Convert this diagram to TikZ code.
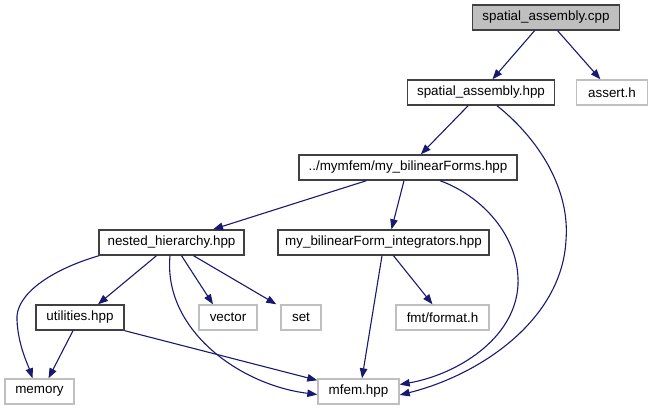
\documentclass[tikz,border=0pt]{standalone}
\usepackage{fontspec}
\setmainfont{Liberation Sans}
\usetikzlibrary{arrows.meta}
\definecolor{edgec}{HTML}{191970}
\definecolor{grayb}{HTML}{BFBFBF}
\definecolor{darkb}{HTML}{404040}
\begin{document}
\begin{tikzpicture}[x=1pt,y=-1pt,
  box/.style={draw=darkb,line width=1.4pt,inner sep=0pt,minimum height=25pt,font=\fontsize{13.4}{15}\selectfont,fill=white},
  ext/.style={box,draw=grayb},
  dep/.style={draw=edgec,line width=1.1pt,-{Triangle[length=10pt,width=7.5pt]}}]
\useasboundingbox (0,0) rectangle (653,411);
\node[box,fill=grayb,minimum width=147pt] (cpp) at (546,17.5) {spatial\_assembly.cpp};
\node[box,minimum width=147pt] (hpp) at (481,92.5) {spatial\_assembly.hpp};
\node[ext,minimum width=71pt] (assert) at (612,92.5) {assert.h};
\node[box,minimum width=218pt] (mybf) at (408,167.5) {../mymfem/my\_bilinearForms.hpp};
\node[box,minimum width=145pt] (nested) at (171.5,242.5) {nested\_hierarchy.hpp};
\node[box,minimum width=211pt] (integ) at (383.5,242.5) {my\_bilinearForm\_integrators.hpp};
\node[box,minimum width=88pt] (util) at (80,317.5) {utilities.hpp};
\node[ext,minimum width=58pt] (vector) at (228,317.5) {vector};
\node[ext,minimum width=40pt] (set) at (301,317.5) {set};
\node[ext,minimum width=93pt] (fmt) at (442.5,317.5) {fmt/format.h};
\node[ext,minimum width=69pt] (memory) at (39.5,391.5) {memory};
\node[ext,minimum width=81pt] (mfem) at (358.5,391.5) {mfem.hpp};

\draw[dep] (cpp) -- (hpp);
\draw[dep] (cpp) -- (assert);
\draw[dep] (hpp) -- (mybf);
\draw[dep] ([xshift=16pt]hpp.south) .. controls (540,140) and (570,190) .. (566,240)
  .. controls (562,320) and (480,375) .. ([yshift=-3.5pt]mfem.east);
\draw[dep] (mybf) -- (nested);
\draw[dep] ([xshift=-4pt]mybf.south) -- ([xshift=8pt]integ.north);
\draw[dep] ([xshift=32pt]mybf.south) .. controls (480,195) and (520,235) .. (518,285)
  .. controls (515,340) and (455,375) .. ([yshift=7pt]mfem.east);
\draw[dep] ([xshift=-72.5pt]nested.south) .. controls (50,270) and (15,295) .. (17,320)
  .. controls (18,345) and (28,365) .. ([xshift=-7pt]memory.north);
\draw[dep] ([xshift=-15pt]nested.south) -- ([xshift=18pt]util.north);
\draw[dep] ([xshift=10pt]nested.south) -- ([xshift=-15pt]vector.north);
\draw[dep] ([xshift=22pt]nested.south) -- ([xshift=-4pt]set.north west);
\draw[dep] ([xshift=-1.5pt]nested.south) .. controls (163,330) and (240,385) .. ([yshift=-3pt]mfem.west);
\draw[dep] ([xshift=-7pt]util.south) -- ([xshift=9pt]memory.north);
\draw[dep] (util.south east) -- ([yshift=-2pt]mfem.north west);
\draw[dep] ([xshift=-1.5pt]integ.south) -- ([xshift=3.5pt]mfem.north);
\draw[dep] ([xshift=10pt]integ.south) -- ([xshift=-10pt]fmt.north);
\end{tikzpicture}
\end{document}
